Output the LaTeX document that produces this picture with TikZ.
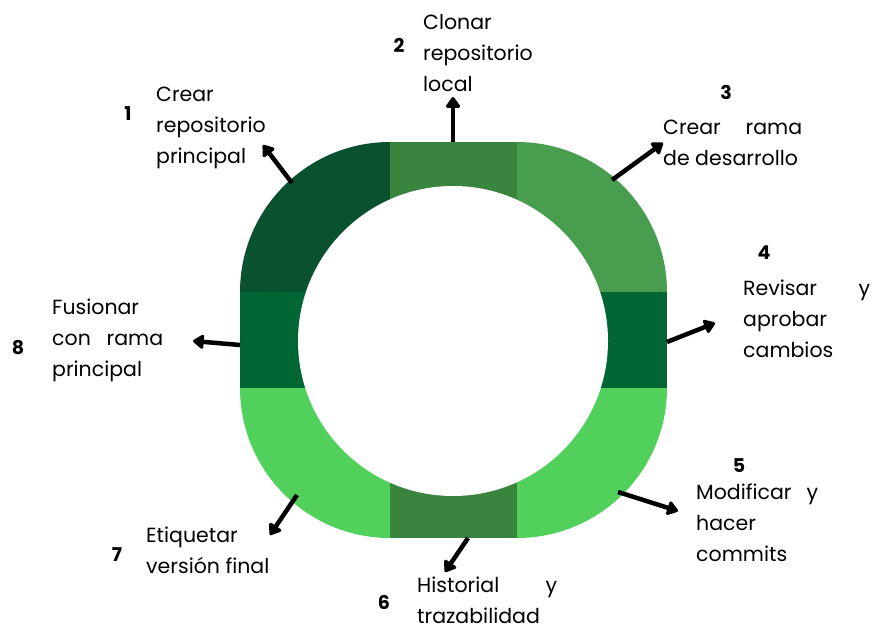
\documentclass[tikz,border=0pt]{standalone}
\usepackage{fontspec}
\setmainfont{Poppins}
\usetikzlibrary{arrows.meta}

\definecolor{cornerTL}{HTML}{0A5130}
\definecolor{cornerTR}{HTML}{499D4E}
\definecolor{cornerB}{HTML}{51D15B}
\definecolor{midTB}{HTML}{3A853E}
\definecolor{midLR}{HTML}{006633}

\tikzset{
  flow/.style={line width=4.5pt, -{Triangle[length=12pt,width=16pt,round]}},
  lbl/.style={anchor=base west, inner sep=0pt, font=\fontsize{20.5}{31}\selectfont},
  num/.style={anchor=base, inner sep=0pt, font=\bfseries\fontsize{19}{20}\selectfont},
}

\begin{document}
\begin{tikzpicture}[x=1pt,y=1pt]
  \useasboundingbox (0,0) rectangle (873,625);

  % ring: four quarter sectors, four straight pieces, white hole
  \fill[cornerTL] (390,333) -- (240,333) arc[start angle=180,end angle=90,radius=150pt] -- cycle;
  \fill[cornerTR] (517,333) -- (517,483) arc[start angle=90,end angle=0,radius=150pt] -- cycle;
  \fill[cornerB]  (517,237) -- (667,237) arc[start angle=0,end angle=-90,radius=150pt] -- cycle;
  \fill[cornerB]  (390,237) -- (390,87) arc[start angle=-90,end angle=-180,radius=150pt] -- cycle;
  \fill[midTB] (390,284) rectangle (517,483);
  \fill[midTB] (390,87) rectangle (517,284);
  \fill[midLR] (240,237) rectangle (390,333);
  \fill[midLR] (517,237) rectangle (667,333);
  \fill[white] (453,284) circle[radius=155pt];

  % arrow ends
  \coordinate (t1) at (292,442); \coordinate (h1) at (263,480);
  \coordinate (t2) at (453,483); \coordinate (h2) at (453,528);
  \coordinate (t3) at (612,445); \coordinate (h3) at (663,482);
  \coordinate (t4) at (667,283); \coordinate (h4) at (715,302);
  \coordinate (t5) at (618,133); \coordinate (h5) at (678,114);
  \coordinate (t6) at (468,87);  \coordinate (h6) at (445,53);
  \coordinate (t7) at (297,130); \coordinate (h7) at (270,90);
  \coordinate (t8) at (240,280); \coordinate (h8) at (193,284);
  \foreach \i in {1,...,8} \draw[flow] (t\i) -- (h\i);

  % step numbers
  \node[num] (n1) at (128,504) {1};
  \node[num] (n2) at (399,572) {2};
  \node[num] (n3) at (726,525) {3};
  \node[num] (n4) at (764,366) {4};
  \node[num] (n5) at (739,153) {5};
  \node[num] (n6) at (384,16) {6};
  \node[num] (n7) at (117,64) {7};
  \node[num] (n8) at (18,271) {8};

  % step texts
  \node[lbl] (s1) at (156,523) {\parbox[t]{130pt}{Crear\\repositorio\\principal}};
  \node[lbl] (s2) at (423,595) {\parbox[t]{130pt}{Clonar\\repositorio\\local}};
  \node[lbl] (s3) at (663,490) {\parbox[t]{139pt}{\makebox[139pt][s]{Crear rama}\\de desarrollo}};
  \node[lbl] (s4) at (743,330) {\parbox[t]{127pt}{\makebox[127pt][s]{Revisar y}\\aprobar\\cambios}};
  \node[lbl] (s5) at (696,126) {\parbox[t]{122pt}{\makebox[122pt][s]{Modificar y}\\hacer\\commits}};
  \node[lbl] (s6) at (417,33)  {\parbox[t]{140pt}{\makebox[140pt][s]{Historial y}\\trazabilidad}};
  \node[lbl] (s7) at (146,83)  {\parbox[t]{140pt}{Etiquetar\\versión final}};
  \node[lbl] (s8) at (52,311)  {\parbox[t]{111pt}{Fusionar\\\makebox[111pt][s]{con rama}\\principal}};
\end{tikzpicture}
\end{document}
